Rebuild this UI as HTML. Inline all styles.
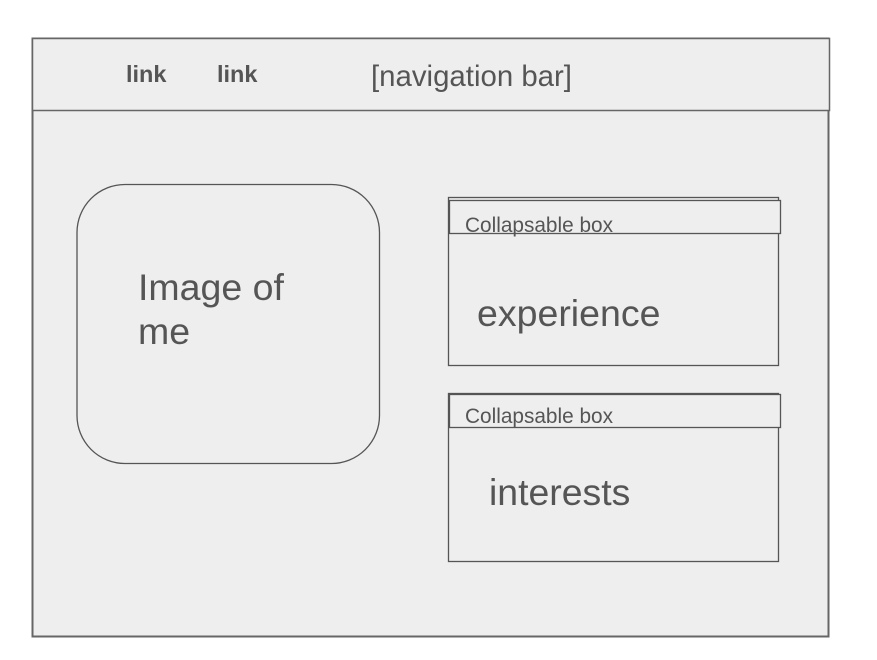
<!DOCTYPE html>
<html><head><style>body{margin:0;background:#fff}svg{display:block}</style></head><body>
<svg width="877" height="660" xmlns="http://www.w3.org/2000/svg" font-family="Liberation Sans, sans-serif">
<rect x="32.5" y="38.5" width="796" height="598" fill="#eeeeee" stroke="#666" stroke-width="2"/>
<rect x="32.5" y="38.5" width="797" height="72" fill="#eeeeee" stroke="#666" stroke-width="1.5"/>
<text x="126" y="82" font-size="23.5" font-weight="bold" fill="#555">link</text>
<text x="217" y="82" font-size="23.5" font-weight="bold" fill="#555">link</text>
<text x="371" y="86" font-size="29.4" fill="#555">[navigation bar]</text>
<rect x="77" y="184.5" width="302.5" height="279" rx="48" fill="#eeeeee" stroke="#555" stroke-width="1.3"/>
<text x="138" y="300" font-size="37.5" fill="#555">Image of</text>
<text x="138" y="344" font-size="37.5" fill="#555">me</text>
<rect x="448.5" y="197.5" width="330" height="168" fill="#eeeeee" stroke="#555" stroke-width="1.3"/>
<rect x="449.5" y="200.5" width="331" height="33" fill="#eeeeee" stroke="#555" stroke-width="1.3"/>
<text x="465" y="232" font-size="20.8" fill="#555">Collapsable box</text>
<text x="477" y="326" font-size="37.5" fill="#555">experience</text>
<rect x="448.5" y="393.5" width="330" height="168" fill="#eeeeee" stroke="#555" stroke-width="1.3"/>
<rect x="449.5" y="394.5" width="331" height="33" fill="#eeeeee" stroke="#555" stroke-width="1.3"/>
<text x="465" y="423" font-size="20.8" fill="#555">Collapsable box</text>
<text x="489" y="505" font-size="37.4" fill="#555">interests</text>
</svg>
</body></html>
